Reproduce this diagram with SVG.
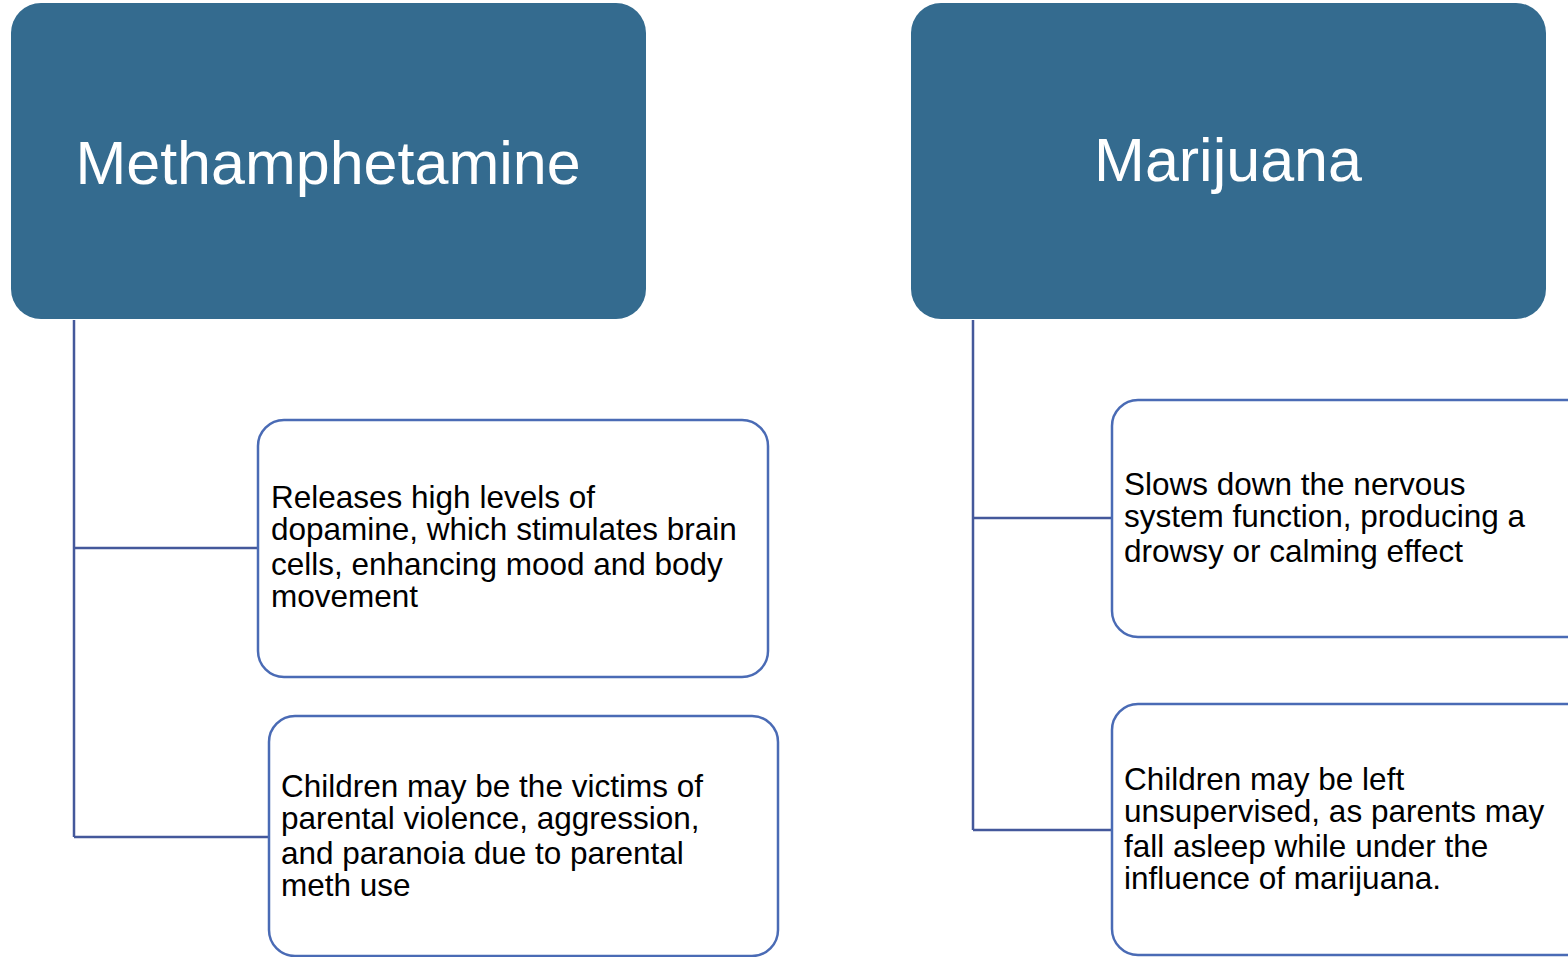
<svg xmlns="http://www.w3.org/2000/svg" width="1568" height="957" viewBox="0 0 1568 957">
<style>
.hdr{fill:#346B8F}
.ht{font-family:"Liberation Sans",Arial,sans-serif;font-size:61px;fill:#FFFFFF}
.box{fill:#FFFFFF;stroke:#4A6BB5;stroke-width:2.5}
.bt{font-family:"Liberation Sans",Arial,sans-serif;font-size:31.5px;fill:#000000}
.con{fill:none;stroke:#44589B;stroke-width:2.5}
</style>
<rect width="1568" height="957" fill="#FFFFFF"/>
<g id="connectors">
<path class="con" d="M74 320 V837 M74 548 H258 M74 837 H269"/>
<path class="con" d="M973 320 V830 M973 518 H1112 M973 830 H1112"/>
</g>
<g id="meth">
<rect class="hdr" x="11" y="3" width="635" height="316" rx="30"/>
<text class="ht" x="328" y="184" text-anchor="middle">Methamphetamine</text>
</g>
<g id="marijuana">
<rect class="hdr" x="911" y="3" width="635" height="316" rx="30"/>
<text class="ht" x="1228" y="181" text-anchor="middle">Marijuana</text>
</g>
<g id="meth1">
<rect class="box" x="258" y="420" width="510" height="257" rx="26"/>
<text class="bt"><tspan x="271" y="508">Releases high levels of</tspan><tspan x="271" y="540">dopamine, which stimulates brain</tspan><tspan x="271" y="575">cells, enhancing mood and body</tspan><tspan x="271" y="607">movement</tspan></text>
</g>
<g id="meth2">
<rect class="box" x="269" y="716" width="509" height="240" rx="26"/>
<text class="bt"><tspan x="281" y="797">Children may be the victims of</tspan><tspan x="281" y="829">parental violence, aggression,</tspan><tspan x="281" y="864">and paranoia due to parental</tspan><tspan x="281" y="896">meth use</tspan></text>
</g>
<g id="mar1">
<rect class="box" x="1112" y="400" width="480" height="237" rx="26"/>
<text class="bt"><tspan x="1124" y="495">Slows down the nervous</tspan><tspan x="1124" y="527">system function, producing a</tspan><tspan x="1124" y="562">drowsy or calming effect</tspan></text>
</g>
<g id="mar2">
<rect class="box" x="1112" y="704" width="480" height="251" rx="26"/>
<text class="bt"><tspan x="1124" y="790">Children may be left</tspan><tspan x="1124" y="822">unsupervised, as parents may</tspan><tspan x="1124" y="857">fall asleep while under the</tspan><tspan x="1124" y="889">influence of marijuana.</tspan></text>
</g>
</svg>
